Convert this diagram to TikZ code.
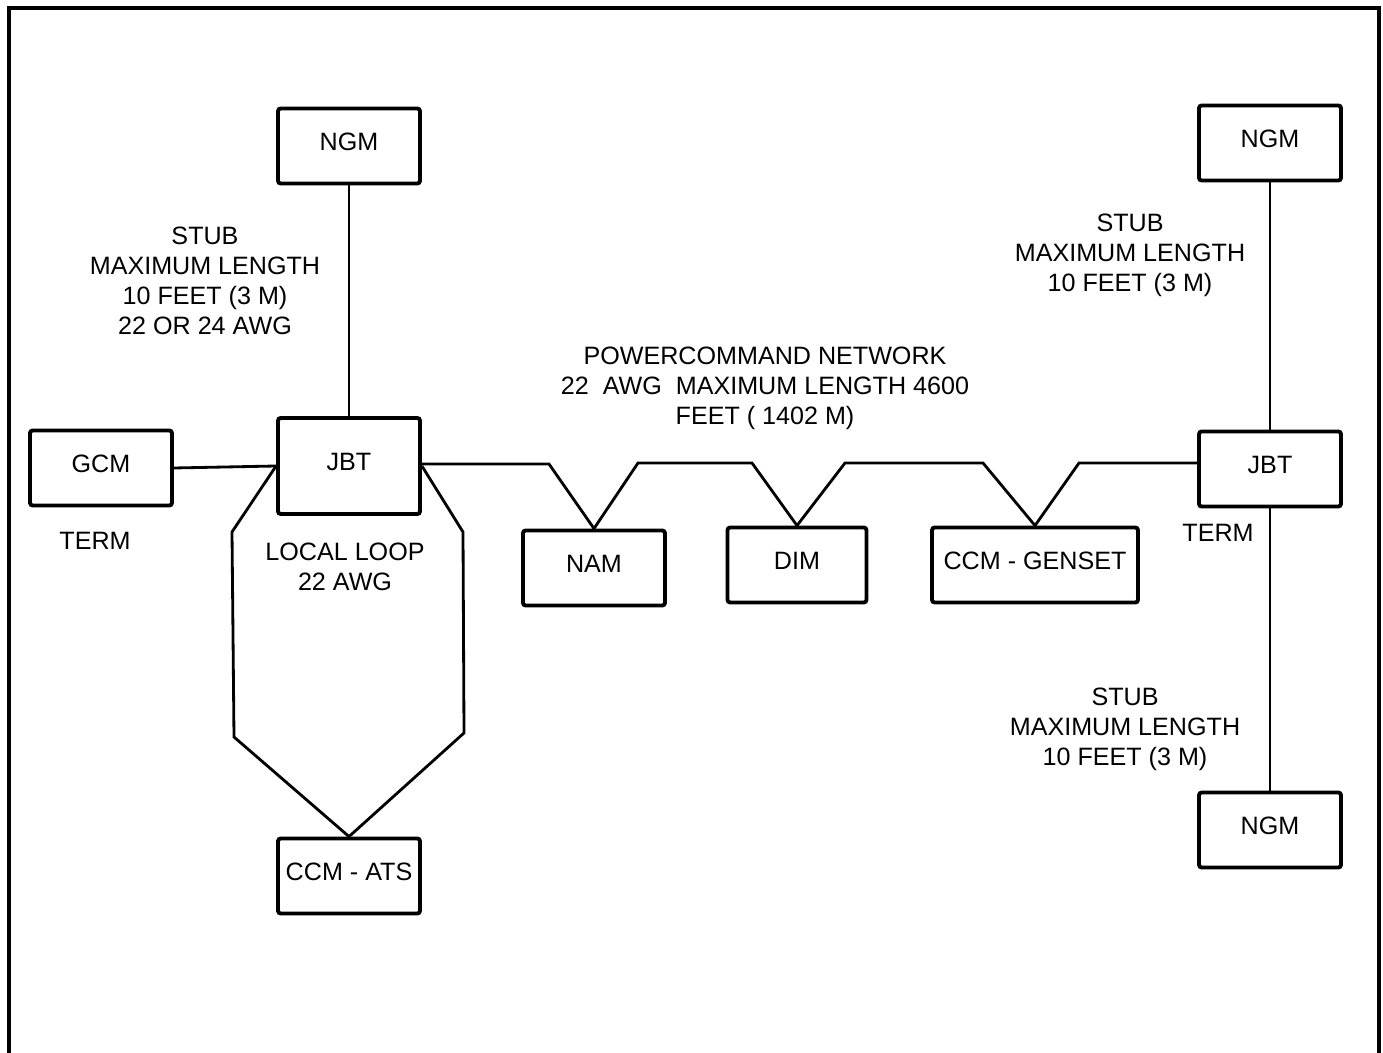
\documentclass[tikz,border=0pt]{standalone}
\usepackage{fontspec}
\setmainfont{Liberation Sans}
\usetikzlibrary{positioning}
\newcommand{\netfont}{\fontsize{14.3}{17.1}\selectfont}

\begin{document}
\begin{tikzpicture}[
  x=0.02cm, y=-0.02cm,
  unit/.style={
    rectangle, draw, line width=2.2pt, rounded corners=1.5pt,
    minimum width=2.84cm, minimum height=1.5cm, inner sep=0pt,
    text depth=0.16cm, font=\netfont
  },
  wire/.style={line width=1.6pt},
  lbl/.style={align=center, inner sep=0pt, font=\netfont},
  frame/.style={line width=1.8pt},
]
  \useasboundingbox (0,0) rectangle (1383,1053);
  \draw[frame] (9,1053) -- (9,8) -- (1379,8) -- (1379,1053);

  \node[unit] (ngmL) at (349,146) {NGM};
  \node[unit, minimum height=1.92cm] (jbtL) at (349,466) {JBT};
  \node[unit] (gcm) at (101,468) {GCM};
  \node[unit] (ats) at (349,876) {CCM - ATS};
  \node[unit] (nam) at (594,568) {NAM};
  \node[unit, minimum width=2.78cm] (dim) at (797,565) {DIM};
  \node[unit, minimum width=4.12cm] (gen) at (1035,565) {CCM - GENSET};
  \node[unit] (jbtR) at (1270,469) {JBT};
  \node[unit] (ngmR) at (1270,143) {NGM};
  \node[unit] (ngmB) at (1270,830) {NGM};

  \node[lbl] (stubL) at (205,281) {STUB\\MAXIMUM LENGTH\\10 FEET (3 M)\\22 OR 24 AWG};
  \node[lbl] (stubR) at (1130,255) {STUB\\MAXIMUM LENGTH\\10 FEET (3 M)};
  \node[lbl] (stubB) at (1125,729) {STUB\\MAXIMUM LENGTH\\10 FEET (3 M)};
  \node[lbl] (pcn) at (765,388) {POWERCOMMAND NETWORK\\22\ \ AWG\ \ MAXIMUM LENGTH 4600\\FEET ( 1402 M)};
  \node[lbl] (termL) at (95,541) {TERM};
  \node[lbl] (termR) at (1218,533) {TERM};
  \node[lbl] (loop) at (345,567) {LOCAL LOOP\\22 AWG};

  \draw[wire] (ngmL) -- (jbtL);
  \draw[wire] (gcm.east) -- (jbtL.west);
  \draw[wire] (jbtL.west) -- (232,532) -- (234,737) -- (ats.north)
    -- (464,733) -- (463,532) -- (jbtL.east);
  \draw[wire] (jbtL.east |- 0,464) -- (549,464) -- (nam.north) -- (638,463)
    -- (752,463) -- (dim.north) -- (845,463) -- (983,463) -- (gen.north)
    -- (1079,463) -- (jbtR.west |- 0,463);
  \draw[wire] (ngmR) -- (jbtR);
  \draw[wire] (jbtR) -- (ngmB);
\end{tikzpicture}
\end{document}
